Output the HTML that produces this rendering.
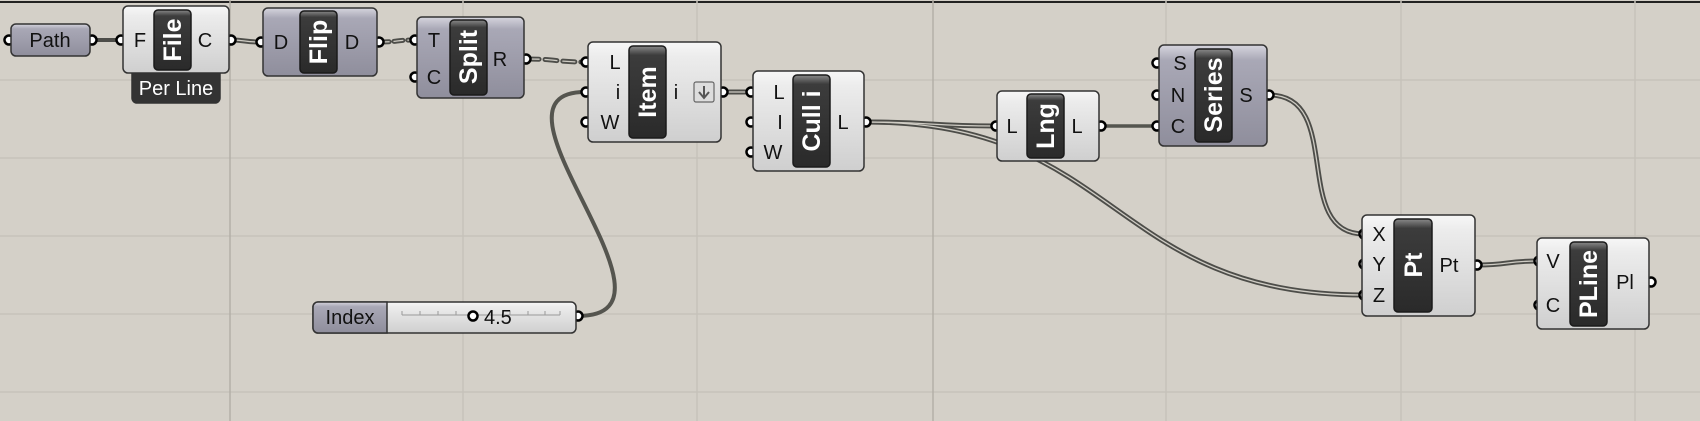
<!DOCTYPE html>
<html><head><meta charset="utf-8"><style>
html,body{margin:0;padding:0;background:#d4d0c8;}
svg{display:block;}
text{font-family:"Liberation Sans",sans-serif;}
</style></head><body>
<svg width="1700" height="421" viewBox="0 0 1700 421" xmlns="http://www.w3.org/2000/svg">
<defs>
<linearGradient id="lg" x1="0" y1="0" x2="0" y2="1"><stop offset="0" stop-color="#f7f7f7"/><stop offset="0.15" stop-color="#ececec"/><stop offset="1" stop-color="#cfcfcf"/></linearGradient>
<linearGradient id="dg" x1="0" y1="0" x2="0" y2="1"><stop offset="0" stop-color="#d6d5de"/><stop offset="0.15" stop-color="#a9a8b6"/><stop offset="1" stop-color="#8f8e9c"/></linearGradient>
<linearGradient id="bg" x1="0" y1="0" x2="0" y2="1"><stop offset="0" stop-color="#8a8a8a"/><stop offset="0.1" stop-color="#3c3c3c"/><stop offset="1" stop-color="#2a2a2a"/></linearGradient>
</defs>
<rect width="1700" height="421" fill="#d4d0c8"/>
<line x1="0" y1="2" x2="1700" y2="2" stroke="#222" stroke-width="2"/>
<g stroke="#c6c2ba" stroke-width="1.5">
<line x1="0" y1="80" x2="1700" y2="80"/><line x1="0" y1="158" x2="1700" y2="158"/>
<line x1="0" y1="236" x2="1700" y2="236"/><line x1="0" y1="314" x2="1700" y2="314"/>
<line x1="0" y1="392" x2="1700" y2="392"/>
<line x1="463" y1="0" x2="463" y2="421"/>
<line x1="697" y1="0" x2="697" y2="421"/>
<line x1="1166" y1="0" x2="1166" y2="421"/><line x1="1401" y1="0" x2="1401" y2="421"/>
<line x1="1635" y1="0" x2="1635" y2="421"/>
</g>
<g stroke="#b4b0a8" stroke-width="1.5">
<line x1="230" y1="0" x2="230" y2="421"/><line x1="933" y1="0" x2="933" y2="421"/>
</g>
<!-- wires -->
<g fill="none" stroke-linecap="round">
<path d="M93,40 L120,40" stroke="#4d4d49" stroke-width="4"/>
<g stroke="#4d4d49" stroke-width="5">
<path d="M231,40 C245,40 245,42 260,42"/>
<path d="M724,92 C737,92 737,92 750,92"/>
<path d="M866,122 C930,122 930,126 995,126"/>
<path d="M866,122 C1120,122 1110,295 1364,295"/>
<path d="M1269,95 C1345,95 1290,234 1364,234"/>
<path d="M1477,265 C1510,265 1505,261 1539,261"/>
</g>
<g stroke="#cfccc4" stroke-width="1.3">
<path d="M231,40 C245,40 245,42 260,42"/>
<path d="M724,92 C737,92 737,92 750,92"/>
<path d="M866,122 C930,122 930,126 995,126"/>
<path d="M866,122 C1120,122 1110,295 1364,295"/>
<path d="M1269,95 C1345,95 1290,234 1364,234"/>
<path d="M1477,265 C1510,265 1505,261 1539,261"/>
</g>
<path d="M1101,126 L1156,126" stroke="#55554f" stroke-width="3.5"/>
<path d="M578,316 C700,316 470,92 585,92" stroke="#55554f" stroke-width="4"/>
<path d="M380,42 C397,42 397,40 414,40" stroke="#4d4d49" stroke-width="5" stroke-dasharray="9,5"/>
<path d="M527,59 C556,59 556,62 585,62" stroke="#4d4d49" stroke-width="5" stroke-dasharray="12,6"/>
<path d="M380,42 C397,42 397,40 414,40" stroke="#cfccc4" stroke-width="1.3" stroke-dasharray="9,5"/>
<path d="M527,59 C556,59 556,62 585,62" stroke="#cfccc4" stroke-width="1.3" stroke-dasharray="12,6"/>
</g>
<!-- grips -->
<g fill="#fff" stroke="#000" stroke-width="2.5">
<circle cx="9" cy="40" r="4.5"/><circle cx="92" cy="40" r="4.5"/>
<circle cx="121" cy="40" r="4.5"/><circle cx="231" cy="40" r="4.5"/>
<circle cx="261" cy="42" r="4.5"/><circle cx="379" cy="42" r="4.5"/>
<circle cx="415" cy="40" r="4.5"/><circle cx="415" cy="77" r="4.5"/><circle cx="526" cy="59" r="4.5"/>
<circle cx="586" cy="62" r="4.5"/><circle cx="586" cy="92" r="4.5"/><circle cx="586" cy="122" r="4.5"/><circle cx="723" cy="92" r="4.5"/>
<circle cx="751" cy="92" r="4.5"/><circle cx="751" cy="122" r="4.5"/><circle cx="751" cy="152" r="4.5"/><circle cx="866" cy="122" r="4.5"/>
<circle cx="996" cy="126" r="4.5"/><circle cx="1101" cy="126" r="4.5"/>
<circle cx="1157" cy="63" r="4.5"/><circle cx="1157" cy="95" r="4.5"/><circle cx="1157" cy="126" r="4.5"/><circle cx="1269" cy="95" r="4.5"/>
<circle cx="1364" cy="234" r="4.5"/><circle cx="1364" cy="264" r="4.5"/><circle cx="1364" cy="295" r="4.5"/><circle cx="1477" cy="265" r="4.5"/>
<circle cx="1539" cy="261" r="4.5"/><circle cx="1539" cy="305" r="4.5"/><circle cx="1651" cy="282" r="4.5"/>
<circle cx="578" cy="316" r="4.5"/>
</g>
<!-- nodes -->
<g stroke="#333" stroke-width="1.5">
<rect x="11" y="24" width="79" height="32" rx="5" fill="url(#dg)"/>
<rect x="132" y="66" width="88" height="37" rx="5" fill="#333"/>
<rect x="123" y="6" width="106" height="67" rx="5" fill="url(#lg)"/>
<rect x="263" y="8" width="114" height="68" rx="5" fill="url(#dg)"/>
<rect x="417" y="17" width="107" height="81" rx="5" fill="url(#dg)"/>
<rect x="588" y="42" width="133" height="100" rx="5" fill="url(#lg)"/>
<rect x="753" y="71" width="111" height="100" rx="5" fill="url(#lg)"/>
<rect x="997" y="91" width="102" height="70" rx="5" fill="url(#lg)"/>
<rect x="1159" y="45" width="108" height="101" rx="5" fill="url(#dg)"/>
<rect x="1362" y="215" width="113" height="101" rx="5" fill="url(#lg)"/>
<rect x="1537" y="238" width="112" height="91" rx="5" fill="url(#lg)"/>
<rect x="313" y="302" width="263" height="31" rx="5" fill="url(#lg)"/>
<path d="M387,302 H318 a5,5 0 0 0 -5,5 V328 a5,5 0 0 0 5,5 H387 Z" fill="url(#dg)"/>
</g>
<g fill="url(#bg)" stroke="#1a1a1a" stroke-width="1.5">
<rect x="154" y="10" width="37" height="60" rx="4"/>
<rect x="300" y="11" width="37" height="62" rx="4"/>
<rect x="450" y="20" width="37" height="75" rx="4"/>
<rect x="629" y="46" width="37" height="92" rx="4"/>
<rect x="793" y="75" width="37" height="92" rx="4"/>
<rect x="1027" y="94" width="37" height="64" rx="4"/>
<rect x="1195" y="49" width="37" height="93" rx="4"/>
<rect x="1394" y="219" width="38" height="93" rx="4"/>
<rect x="1570" y="242" width="37" height="84" rx="4"/>
</g>
<rect x="694" y="82" width="20" height="20" rx="2" fill="#ddd" stroke="#666" stroke-width="1.2"/>
<path d="M704,86 V97 M699,92 L704,98 L709,92" fill="none" stroke="#555" stroke-width="2"/>
<!-- bar labels -->
<g fill="#fff" font-weight="bold" font-size="25" text-anchor="middle">
<text transform="translate(181,40) rotate(-90)">File</text>
<text transform="translate(327,42) rotate(-90)">Flip</text>
<text transform="translate(477,57) rotate(-90)">Split</text>
<text transform="translate(656,92) rotate(-90)">Item</text>
<text transform="translate(820,121) rotate(-90)">Cull i</text>
<text transform="translate(1054,126) rotate(-90)">Lng</text>
<text transform="translate(1222,95) rotate(-90)">Series</text>
<text transform="translate(1422,265) rotate(-90)">Pt</text>
<text transform="translate(1597,284) rotate(-90)">PLine</text>
</g>
<g fill="#111" font-size="20" text-anchor="middle">
<text x="50" y="47">Path</text>
<text x="140" y="47">F</text><text x="205" y="47">C</text>
<text x="281" y="49">D</text><text x="352" y="49">D</text>
<text x="434" y="47">T</text><text x="434" y="84">C</text><text x="500" y="66">R</text>
<text x="615" y="69">L</text><text x="618" y="99">i</text><text x="610" y="129">W</text><text x="676" y="99">i</text>
<text x="779" y="99">L</text><text x="780" y="129">I</text><text x="773" y="159">W</text><text x="843" y="129">L</text>
<text x="1012" y="133">L</text><text x="1077" y="133">L</text>
<text x="1180" y="70">S</text><text x="1178" y="102">N</text><text x="1178" y="133">C</text><text x="1246" y="102">S</text>
<text x="1379" y="241">X</text><text x="1379" y="271">Y</text><text x="1379" y="302">Z</text><text x="1449" y="272">Pt</text>
<text x="1553" y="268">V</text><text x="1553" y="312">C</text><text x="1625" y="289">Pl</text>
<text x="350" y="324">Index</text>
</g>
<text x="176" y="95" fill="#fff" font-size="20" text-anchor="middle">Per Line</text>
<g stroke="#999" stroke-width="1">
<line x1="402" y1="315" x2="560" y2="315"/>
<line x1="402" y1="311" x2="402" y2="315"/><line x1="420" y1="311" x2="420" y2="315"/><line x1="438" y1="311" x2="438" y2="315"/><line x1="456" y1="311" x2="456" y2="315"/><line x1="492" y1="311" x2="492" y2="315"/><line x1="510" y1="311" x2="510" y2="315"/><line x1="528" y1="311" x2="528" y2="315"/><line x1="545" y1="311" x2="545" y2="315"/><line x1="560" y1="311" x2="560" y2="315"/>
</g>
<circle cx="473" cy="316" r="4.5" fill="#fff" stroke="#000" stroke-width="2.5"/>
<text x="484" y="324" fill="#111" font-size="20">4.5</text>
</svg>
</body></html>
